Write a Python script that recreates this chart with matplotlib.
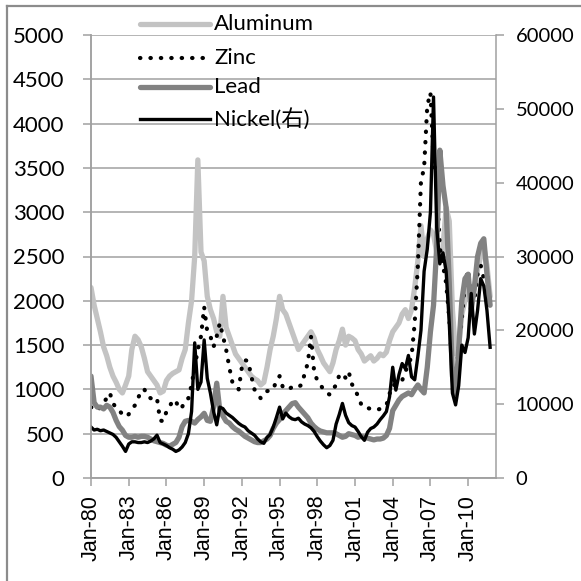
import matplotlib
matplotlib.use("Agg")
import matplotlib.pyplot as plt
import matplotlib.dates as mdates
from matplotlib.lines import Line2D
import pandas as pd

# LME metal prices, quarterly, Q1 1980 .. Q4 2011 (USD/t)
aluminum = [
    2150, 1950, 1800, 1650,  1480, 1380, 1250, 1150,  1080, 1000, 960, 1050,
    1150, 1450, 1600, 1560,  1480, 1350, 1200, 1150,  1100, 1050, 960, 980,
    1100, 1150, 1180, 1200,  1220, 1350, 1450, 1750,  2000, 2500, 3590, 2550,
    2450, 2050, 1900, 1800,  1650, 1600, 2050, 1700,  1600, 1500, 1400, 1350,
    1300, 1250, 1200, 1150,  1120, 1100, 1050, 1080,  1250, 1450, 1600, 1800,
    2050, 1900, 1850, 1750,  1650, 1550, 1450, 1500,  1550, 1600, 1650, 1580,
    1450, 1380, 1300, 1250,  1200, 1300, 1450, 1550,  1680, 1500, 1600, 1580,
    1550, 1450, 1400, 1320,  1350, 1380, 1320, 1350,  1400, 1380, 1420, 1550,
    1650, 1700, 1750, 1850,  1900, 1800, 1900, 2150,  2450, 2850, 2500, 2700,
    2800, 2750, 2550, 2450,  2600, 3050, 2900, 1900,  1400, 1500, 1850, 2000,
    2200, 2050, 2150, 2350,  2500, 2600, 2400, 2050,
]
zinc = [
    800, 780, 760, 800,  850, 900, 960, 850,  780, 760, 720, 690,
    720, 780, 820, 900,  990, 1000, 920, 900,  920, 900, 650, 640,
    750, 800, 880, 870,  780, 800, 880, 900,  1050, 1250, 1450, 1600,
    1930, 1650, 1600, 1480,  1600, 1750, 1600, 1450,  1250, 1080, 1050, 1000,
    1250, 1330, 1320, 1150,  1000, 950, 900, 930,  980, 990, 1000, 1100,
    1150, 1030, 1000, 1000,  1030, 1040, 1030, 1050,  1180, 1300, 1600, 1200,
    1100, 1050, 1000, 960,  940, 1000, 1050, 1160,  1180, 1130, 1200, 1060,
    1000, 920, 830, 790,  790, 780, 770, 770,  780, 800, 820, 950,
    1050, 1050, 1070, 1100,  1200, 1280, 1370, 1750,  2400, 3350, 3500, 4200,
    4350, 3600, 3350, 2600,  2400, 2200, 1800, 1200,  1150, 1450, 1800, 2200,
    2350, 1950, 2000, 2300,  2400, 2250, 2300, 1950,
]
lead = [
    1150, 850, 800, 800,  780, 820, 800, 740,  650, 580, 540, 480,
    460, 460, 470, 460,  470, 470, 460, 440,  420, 410, 400, 390,
    370, 360, 380, 400,  460, 580, 640, 650,  640, 620, 660, 690,
    730, 650, 640, 800,  1070, 760, 700, 640,  620, 580, 550, 530,
    500, 470, 450, 430,  410, 400, 400, 420,  440, 480, 560, 620,
    660, 720, 760, 800,  840, 850, 800, 760,  720, 680, 620, 580,
    550, 530, 520, 510,  510, 510, 500, 480,  460, 470, 500, 490,
    480, 460, 470, 460,  450, 440, 430, 440,  440, 450, 480, 560,
    760, 820, 880, 920,  940, 960, 940, 1000,  1050, 1000, 960, 1250,
    1650, 1950, 2600, 3700,  3300, 3050, 2200, 1150,  950, 1450, 2000, 2250,
    2300, 1900, 2150, 2500,  2650, 2700, 2300, 1950,
]
nickel = [
    6900, 6500, 6600, 6400,  6500, 6300, 6100, 5900,  5500, 4900, 4300, 3600,
    4600, 4900, 4900, 4800,  4800, 4900, 4800, 5000,  5300, 5800, 4800, 4600,
    4400, 4100, 3900, 3600,  3800, 4200, 4800, 6000,  9000, 18300, 12000, 13000,
    18700, 13500, 11500, 9000,  7200, 9600, 9400, 8800,  8500, 8200, 7800, 7400,
    7100, 6900, 6400, 6100,  5800, 5300, 4900, 4700,  5500, 5900, 6900, 8200,
    9600, 8000, 8800, 8300,  8000, 7900, 8100, 7600,  7300, 7100, 6800, 6300,
    5600, 5000, 4500, 4100,  4400, 5100, 7300, 8600,  10100, 8500, 7500, 7100,
    6900, 6300, 5600, 5100,  6200, 6700, 6900, 7300,  7900, 8400, 9000, 11000,
    15000, 11900, 14000, 15500,  14800, 16600, 13700, 13300,  16500, 20000, 28000, 31000,
    36000, 51600, 34000, 29000,  30500, 28000, 21000, 11500,  9900, 12500, 18000, 17000,
    19000, 25000, 19500, 22700,  27000, 26000, 22700, 17700,
]
dates = pd.date_range("1980-01-01", periods=len(aluminum), freq="QS")

labels = ["Aluminum", "Zinc", "Lead", "Nickel(右)"]
tick_years = list(range(1980, 2011, 3))

plt.rcParams["font.family"] = ["Lato", "Noto Sans CJK JP"]
GRID = "#a0a0a0"
W = 581.0

fig = plt.figure(figsize=(5.81, 5.81), dpi=100)
ax = fig.add_axes([91 / W, 1 - 478 / W, (496 - 91) / W, (478 - 35) / W])
ax2 = ax.twinx()

styles = [
    dict(color="#c3c3c3", lw=3.8, solid_joinstyle="round", solid_capstyle="round"),
    dict(color="black", lw=3.0, linestyle=(0, (0.1, 2.4)), dash_capstyle="round"),
    dict(color="#828282", lw=3.8, solid_joinstyle="round", solid_capstyle="round"),
    dict(color="black", lw=2.4, solid_joinstyle="round"),
]

ax.plot(dates, aluminum, **styles[0])
ax.plot(dates, zinc, **styles[1])
ax.plot(dates, lead, **styles[2])
ax2.plot(dates, nickel, **styles[3])

ax.set_xlim(pd.Timestamp("1980-01-01"), pd.Timestamp("2012-03-20"))
ax.set_ylim(0, 5000)
ax2.set_ylim(0, 60000)
ax.set_yticks(range(0, 5001, 500))
ax2.set_yticks(range(0, 60001, 10000))
ax.set_xticks([pd.Timestamp(f"{y}-01-01") for y in tick_years])
ax.xaxis.set_major_formatter(mdates.DateFormatter("%b-%y"))

ax.yaxis.grid(True, color=GRID, lw=1.1)
ax.set_axisbelow(True)

for a in (ax, ax2):
    for side in ("left", "right", "bottom"):
        a.spines[side].set_color(GRID)
        a.spines[side].set_linewidth(1.1)
    a.spines["top"].set_visible(False)
ax.spines["right"].set_visible(False)

ax.tick_params(axis="y", length=6, width=1.1, color=GRID, pad=13, labelsize=16)
ax2.tick_params(axis="y", length=6, width=1.1, color=GRID, pad=8, labelsize=14.5)
ax.tick_params(axis="x", length=6, width=1.1, color=GRID, pad=6)
for t in ax.get_xticklabels():
    t.set_rotation(90)
    t.set_fontfamily("Liberation Sans")
    t.set_fontsize(15.5)

# legend drawn by hand at the top of the chart
leg_y = [24, 58, 87, 119]
for lab, st, y in zip(labels, styles, leg_y):
    fy = 1 - y / W
    fig.add_artist(Line2D([140 / W, 210 / W], [fy, fy], **st))
    fig.text(214 / W, fy, lab, va="center", ha="left", fontsize=16)

# outer chart frame (left and top edges)
fig.add_artist(Line2D([6.5 / W, 6.5 / W], [0, 1 - 5.5 / W], color="#8c8c8c", lw=1.6))
fig.add_artist(Line2D([6.5 / W, 1], [1 - 5.5 / W, 1 - 5.5 / W], color="#8c8c8c", lw=1.6))

fig.savefig("out.png", dpi=100)
